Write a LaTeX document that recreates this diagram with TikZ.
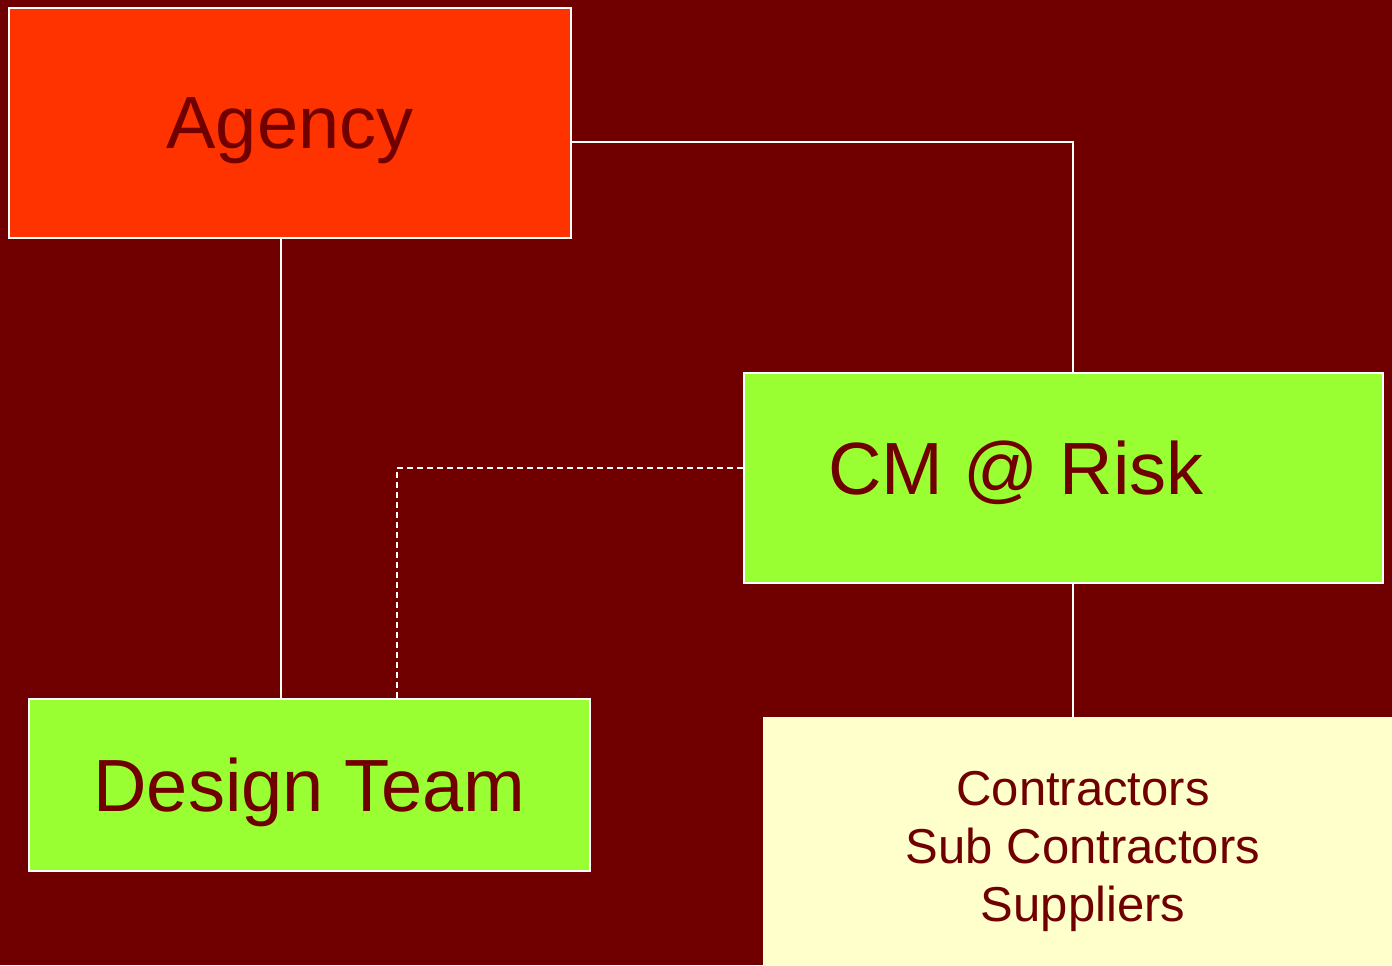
\documentclass[tikz,border=0pt]{standalone}
\usepackage{fontspec}
\setmainfont{Liberation Sans}
\usetikzlibrary{positioning}

\definecolor{maroonbg}{HTML}{700000}
\definecolor{agencyred}{HTML}{FF3300}
\definecolor{limegreen}{HTML}{99FF33}
\definecolor{paleyellow}{HTML}{FFFFCC}

\tikzset{
  box/.style={rectangle, draw=white, line width=0.8pt, text=maroonbg, inner sep=0pt, text depth=0pt},
  bigtext/.style={font=\fontsize{37}{44}\selectfont},
  link/.style={draw=white, line width=1pt},
  dashlink/.style={draw=white, line width=0.6pt, dash pattern=on 3pt off 2pt}
}

\begin{document}
\begin{tikzpicture}[x=0.5pt, y=-0.5pt]
  \useasboundingbox (0,0) rectangle (1392,965);
  \fill[maroonbg] (0,0) rectangle (1392,965);

  % Boxes
  \node[box, bigtext, fill=agencyred, minimum width=281pt, minimum height=115pt] (agency) at (290,123) {Agency};
  \node[box, fill=limegreen, minimum width=319.5pt, minimum height=105pt] (cm) at (1063.5,478) {};
  \node[box, bigtext, fill=limegreen, minimum width=280.5pt, minimum height=86pt] (design) at (309.5,785) {Design Team};
  \node[box, fill=paleyellow, line width=0.5pt, align=center, minimum width=320pt, minimum height=129pt,
        font=\fontsize{24.5}{29}\selectfont] (trade) at (1083,846) {Contractors\\Sub Contractors\\Suppliers};

  % Label of the CM box sits left of centre
  \node[text=maroonbg, bigtext, inner sep=0pt, text depth=0pt] (cmlabel) at ([xshift=-23.75pt, yshift=5pt]cm.center) {CM @ Risk};

  % Lines
  \draw[link] ([yshift=-9.5pt]agency.east) -| ([xshift=4.75pt]cm.north);
  \draw[link] ([xshift=-4.5pt]agency.south) -- ([xshift=-4.5pt]agency.south |- design.north);
  \draw[link] ([xshift=4.75pt]cm.south) -- ([xshift=-5pt]trade.north);
  \draw[dashlink] ([yshift=5pt]cm.west) -| ([xshift=43.75pt]design.north);
\end{tikzpicture}
\end{document}
